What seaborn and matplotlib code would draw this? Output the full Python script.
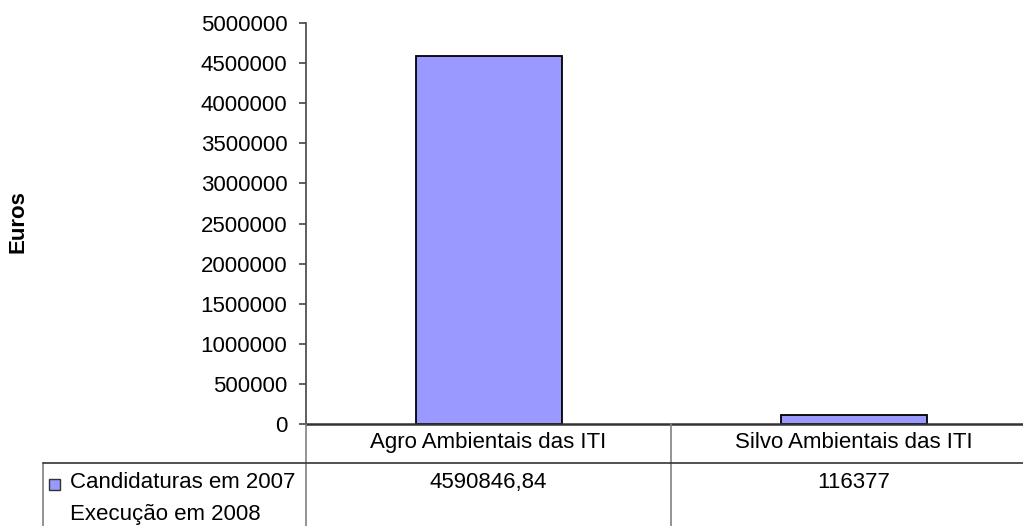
import matplotlib
matplotlib.use("Agg")
import matplotlib.pyplot as plt
import seaborn as sns
import pandas as pd
from matplotlib.lines import Line2D
from matplotlib.patches import Rectangle

categories = ["Agro Ambientais das ITI", "Silvo Ambientais das ITI"]
values = [4590846.84, 116377]
value_labels = ["4590846,84", "116377"]
series_lines = ["Candidaturas em 2007", "Execução em 2008"]
yticks = [0, 500000, 1000000, 1500000, 2000000, 2500000, 3000000, 3500000, 4000000, 4500000, 5000000]

sns.set_style("white")
plt.rcParams['font.family'] = ['Liberation Sans', 'DejaVu Sans']
plt.rcParams['text.color'] = 'black'
plt.rcParams['ytick.labelcolor'] = 'black'
plt.rcParams['ytick.color'] = '#444444'

FS = 16
W, H = 1023, 526
fig = plt.figure(figsize=(W / 100, H / 100), dpi=100)
ax_left, ax_right, ax_top, ax_bottom = 306, 1036, 23, 424
ax = fig.add_axes([ax_left / W, (H - ax_bottom) / H, (ax_right - ax_left) / W, (ax_bottom - ax_top) / H])

df = pd.DataFrame({"cat": categories, "val": values})
bar_color = "#9999ff"
sns.barplot(data=df, x="cat", y="val", ax=ax, color=bar_color, width=0.4,
            edgecolor="black", linewidth=1.3, saturation=1)

ax.set_xlim(-0.5, 1.5)
ax.set_ylim(0, 5000000)
ax.set_yticks(yticks)
ax.set_yticklabels([str(t) for t in yticks], fontsize=FS, color="black")
ax.set_xticks([])
ax.set_xlabel("")
ax.set_ylabel("")
for s in ["top", "right"]:
    ax.spines[s].set_visible(False)
ax.spines["left"].set_color("#444444")
ax.spines["left"].set_linewidth(1.2)
ax.spines["bottom"].set_color("#333333")
ax.spines["bottom"].set_linewidth(1.8)
ax.tick_params(axis="y", direction="out", length=5, width=1.2, color="#444444", pad=8.5, left=True)

fig.text(18 / W, 1 - 222 / H, "Euros", rotation=90, fontsize=FS, fontweight="bold",
         ha="center", va="center")

def fx(x):
    return x / W

def fy(y):
    return 1 - y / H

lw = 1.2
mid = 671
vlines = [(ax_left, 424, 526), (mid, 424, 526), (43, 463, 526)]
for x, y0, y1 in vlines:
    fig.add_artist(Line2D([fx(x), fx(x)], [fy(y0), fy(y1)], color="#808080", linewidth=lw))
fig.add_artist(Line2D([fx(43), fx(1023)], [fy(463), fy(463)], color="#333333", linewidth=lw))

centers = [488.5, 853.5]
for c, cat, lab in zip(centers, categories, value_labels):
    fig.text(fx(c), fy(448), cat, fontsize=FS, ha="center", va="baseline")
    fig.text(fx(c), fy(488), lab, fontsize=FS, ha="center", va="baseline")

fig.add_artist(Rectangle((fx(49), fy(490)), 11 / W, 11 / H, facecolor=bar_color,
                         edgecolor="#333333", linewidth=1, transform=fig.transFigure))
fig.text(fx(70), fy(488), series_lines[0], fontsize=FS, ha="left", va="baseline")
fig.text(fx(70), fy(520), series_lines[1], fontsize=FS, ha="left", va="baseline")

fig.savefig("out.png", dpi=100)
